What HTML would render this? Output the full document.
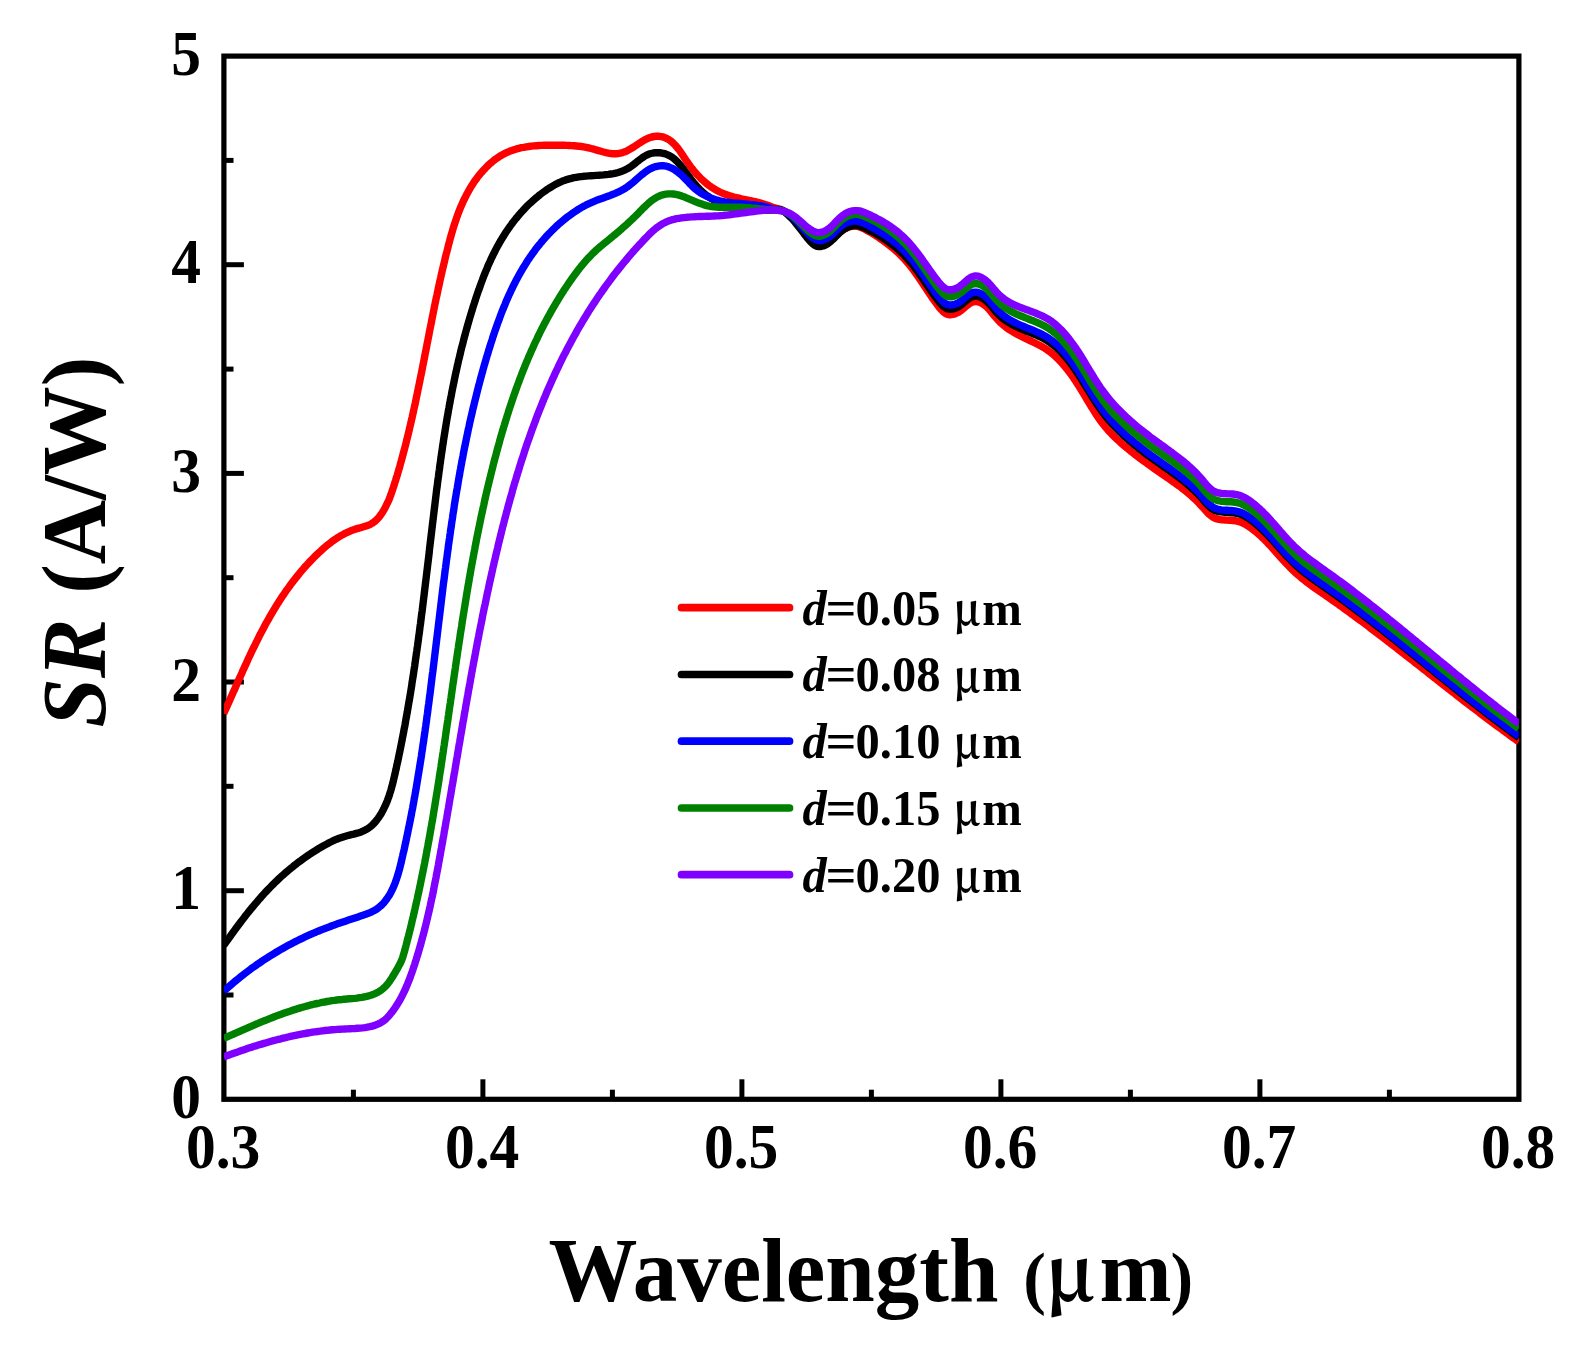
<!DOCTYPE html>
<html lang="en">
<head>
<meta charset="utf-8">
<title>SR vs Wavelength</title>
<style>
html,body{margin:0;padding:0;background:#fff;}
body{width:1590px;height:1349px;overflow:hidden;}
svg{display:block;filter:blur(0.75px);}
text{font-family:"Liberation Serif","Times New Roman",Times,serif;font-weight:bold;fill:#000;}
</style>
</head>
<body>
<svg width="1590" height="1349" viewBox="0 0 1590 1349">
<rect x="0" y="0" width="1590" height="1349" fill="#ffffff"/>
<defs><clipPath id="plot"><rect x="223.9" y="56.1" width="1295.0" height="1043.2"/></clipPath></defs>
<g stroke="#000" stroke-width="5.0" fill="none">
<line x1="353.4" y1="1099.3" x2="353.4" y2="1089.7"/>
<line x1="482.9" y1="1099.3" x2="482.9" y2="1079.3"/>
<line x1="612.4" y1="1099.3" x2="612.4" y2="1089.7"/>
<line x1="741.9" y1="1099.3" x2="741.9" y2="1079.3"/>
<line x1="871.4" y1="1099.3" x2="871.4" y2="1089.7"/>
<line x1="1000.9" y1="1099.3" x2="1000.9" y2="1079.3"/>
<line x1="1130.4" y1="1099.3" x2="1130.4" y2="1089.7"/>
<line x1="1259.9" y1="1099.3" x2="1259.9" y2="1079.3"/>
<line x1="1389.4" y1="1099.3" x2="1389.4" y2="1089.7"/>
<line x1="223.9" y1="995.0" x2="233.5" y2="995.0"/>
<line x1="223.9" y1="890.7" x2="243.9" y2="890.7"/>
<line x1="223.9" y1="786.3" x2="233.5" y2="786.3"/>
<line x1="223.9" y1="682.0" x2="243.9" y2="682.0"/>
<line x1="223.9" y1="577.7" x2="233.5" y2="577.7"/>
<line x1="223.9" y1="473.4" x2="243.9" y2="473.4"/>
<line x1="223.9" y1="369.1" x2="233.5" y2="369.1"/>
<line x1="223.9" y1="264.7" x2="243.9" y2="264.7"/>
<line x1="223.9" y1="160.4" x2="233.5" y2="160.4"/>
</g>
<rect x="223.9" y="56.1" width="1295.0" height="1043.2" fill="none" stroke="#000" stroke-width="5.2"/>
<g clip-path="url(#plot)">
<path d="M223.7 713.5L224.7 711.2L225.8 708.9L226.8 706.7L227.8 704.4L228.9 702.1L229.9 699.8L230.9 697.5L231.9 695.2L232.9 692.9L234.0 690.7L235.0 688.4L236.0 686.1L237.0 683.8L238.0 681.5L239.0 679.2L240.1 677.0L241.1 674.7L242.1 672.4L243.1 670.1L244.2 667.8L245.2 665.6L246.3 663.3L247.3 661.0L248.3 658.8L249.4 656.5L250.5 654.2L251.5 652.0L252.6 649.7L253.7 647.5L254.8 645.3L255.9 643.0L257.0 640.8L258.1 638.6L259.2 636.3L260.4 634.1L261.5 631.9L262.7 629.7L263.9 627.5L265.0 625.3L266.2 623.1L267.5 620.9L268.7 618.8L269.9 616.6L271.2 614.4L272.4 612.3L273.7 610.1L275.0 608.0L276.3 605.9L277.6 603.7L279.0 601.6L280.3 599.5L281.7 597.4L283.1 595.3L284.5 593.3L285.9 591.2L287.4 589.1L288.9 587.1L290.3 585.1L291.9 583.0L293.4 581.0L294.9 579.1L296.5 577.1L298.1 575.1L299.6 573.2L301.3 571.2L302.9 569.3L304.5 567.4L306.2 565.6L307.9 563.7L309.6 561.9L311.3 560.1L313.1 558.3L314.8 556.5L316.6 554.8L318.4 553.1L320.3 551.4L322.1 549.7L323.9 548.1L325.8 546.4L327.7 544.9L329.7 543.3L331.6 541.8L333.6 540.4L335.6 539.0L337.7 537.6L339.8 536.3L341.9 535.1L344.1 533.9L346.3 532.8L348.5 531.8L350.8 530.8L353.1 529.9L355.5 529.1L357.9 528.4L360.4 527.7L362.8 527.0L365.2 526.3L367.6 525.5L369.9 524.6L372.0 523.4L374.0 522.0L375.9 520.5L377.7 518.7L379.3 516.8L380.8 514.8L382.2 512.7L383.5 510.6L384.8 508.4L385.9 506.2L387.0 503.9L388.1 501.7L389.1 499.4L390.0 497.0L390.9 494.7L391.7 492.3L392.5 490.0L393.3 487.6L394.1 485.2L394.8 482.8L395.6 480.4L396.3 478.0L397.1 475.6L397.8 473.2L398.5 470.8L399.2 468.4L399.9 466.0L400.5 463.6L401.2 461.2L401.9 458.8L402.5 456.3L403.2 453.9L403.8 451.5L404.5 449.1L405.1 446.7L405.7 444.3L406.3 441.8L406.9 439.4L407.5 437.0L408.1 434.6L408.7 432.1L409.3 429.7L409.8 427.3L410.4 424.9L411.0 422.4L411.5 420.0L412.1 417.6L412.6 415.2L413.2 412.7L413.7 410.3L414.2 407.9L414.8 405.4L415.3 403.0L415.8 400.5L416.3 398.1L416.8 395.7L417.3 393.2L417.8 390.8L418.3 388.3L418.8 385.9L419.3 383.5L419.8 381.0L420.3 378.6L420.8 376.1L421.3 373.7L421.8 371.2L422.3 368.8L422.7 366.4L423.2 363.9L423.7 361.5L424.2 359.0L424.7 356.6L425.1 354.1L425.6 351.7L426.1 349.2L426.6 346.8L427.0 344.3L427.5 341.9L428.0 339.4L428.5 337.0L429.0 334.5L429.4 332.1L429.9 329.6L430.4 327.2L430.9 324.7L431.4 322.3L431.8 319.8L432.3 317.4L432.8 314.9L433.3 312.5L433.8 310.0L434.3 307.6L434.8 305.1L435.3 302.6L435.8 300.2L436.3 297.7L436.9 295.3L437.4 292.8L437.9 290.4L438.4 287.9L439.0 285.5L439.5 283.0L440.0 280.6L440.6 278.1L441.1 275.7L441.7 273.2L442.2 270.8L442.8 268.3L443.4 265.9L444.0 263.4L444.6 261.0L445.1 258.6L445.7 256.1L446.3 253.7L447.0 251.2L447.6 248.8L448.2 246.3L448.8 243.9L449.5 241.4L450.1 239.0L450.8 236.6L451.5 234.1L452.2 231.7L452.9 229.3L453.6 226.9L454.4 224.5L455.2 222.1L456.0 219.8L456.8 217.4L457.6 215.0L458.5 212.7L459.4 210.4L460.3 208.1L461.3 205.8L462.3 203.5L463.3 201.2L464.4 199.0L465.5 196.8L466.6 194.6L467.8 192.4L469.0 190.2L470.2 188.1L471.5 186.0L472.9 183.9L474.2 181.8L475.7 179.8L477.1 177.8L478.7 175.8L480.2 173.9L481.9 172.0L483.5 170.1L485.3 168.3L487.0 166.5L488.8 164.8L490.7 163.1L492.6 161.5L494.5 159.9L496.5 158.5L498.6 157.1L500.7 155.7L502.8 154.5L505.0 153.4L507.2 152.3L509.5 151.3L511.8 150.5L514.1 149.7L516.5 148.9L518.9 148.3L521.3 147.7L523.8 147.3L526.3 146.8L528.8 146.5L531.3 146.1L533.8 145.9L536.4 145.7L538.9 145.5L541.5 145.4L544.1 145.3L546.6 145.2L549.2 145.2L551.7 145.2L554.3 145.2L556.8 145.2L559.3 145.2L561.8 145.3L564.3 145.3L566.7 145.4L569.2 145.5L571.6 145.6L574.0 145.8L576.5 146.0L578.9 146.2L581.3 146.5L583.7 146.9L586.2 147.3L588.6 147.9L591.1 148.5L593.6 149.1L596.0 149.9L598.5 150.6L601.0 151.3L603.5 152.0L606.0 152.6L608.4 153.1L610.9 153.5L613.3 153.7L615.7 153.7L618.0 153.5L620.3 153.2L622.6 152.6L624.9 151.8L627.1 150.8L629.3 149.6L631.5 148.3L633.7 147.0L635.9 145.5L638.1 144.0L640.3 142.6L642.5 141.2L644.7 139.9L647.0 138.7L649.4 137.8L651.7 137.0L654.2 136.5L656.6 136.2L659.0 136.3L661.4 136.6L663.7 137.2L666.0 138.1L668.1 139.2L670.1 140.5L672.0 142.0L673.8 143.7L675.5 145.5L677.1 147.4L678.7 149.4L680.2 151.4L681.6 153.6L683.1 155.7L684.5 157.9L685.9 160.1L687.4 162.2L688.9 164.3L690.4 166.4L691.9 168.4L693.5 170.4L695.1 172.3L696.8 174.2L698.5 176.0L700.2 177.8L701.9 179.5L703.7 181.1L705.6 182.7L707.5 184.3L709.4 185.7L711.4 187.1L713.4 188.4L715.5 189.7L717.6 190.9L719.8 192.0L722.0 193.0L724.3 193.9L726.6 194.8L729.0 195.6L731.4 196.3L733.9 197.0L736.4 197.6L738.9 198.2L741.4 198.8L743.9 199.3L746.4 199.8L749.0 200.4L751.5 200.9L754.0 201.5L756.5 202.0L758.9 202.6L761.3 203.3L763.7 204.0L766.0 204.7L768.3 205.5L770.5 206.4L772.0 207.0L773.8 207.6L775.7 208.1L777.6 208.5L779.4 209.0L781.3 209.6L783.1 210.4L785.0 211.7L787.0 213.2L789.0 214.9L791.0 216.8L793.0 218.8L795.0 221.0L797.0 223.3L799.0 225.8L801.0 228.3L803.0 230.9L805.0 233.5L807.0 236.0L809.0 238.3L811.0 240.4L813.0 242.2L815.0 243.6L817.0 244.6L819.0 245.1L821.0 245.1L823.0 244.8L825.0 244.2L827.0 243.2L829.0 242.0L831.0 240.4L833.0 238.7L835.0 236.7L837.0 234.8L839.0 232.9L841.0 231.2L843.0 229.8L845.0 228.6L847.0 227.6L849.0 226.9L851.0 226.4L853.0 226.1L855.0 226.0L857.0 226.2L859.0 226.7L861.0 227.4L863.0 228.3L865.0 229.3L867.0 230.4L869.0 231.5L871.0 232.7L873.0 233.9L875.0 235.1L877.0 236.4L879.0 237.7L881.0 239.1L883.0 240.5L885.0 242.0L887.0 243.5L889.0 245.0L891.0 246.6L893.0 248.3L895.0 250.0L897.0 251.8L899.0 253.6L901.0 255.6L903.0 257.6L905.0 259.8L907.0 262.1L909.0 264.5L911.0 267.0L913.0 269.6L915.0 272.3L917.0 275.1L919.0 278.0L921.0 280.9L923.0 283.9L925.0 286.9L927.0 290.0L929.0 293.0L931.0 295.9L933.0 298.9L935.0 301.7L937.0 304.4L939.0 307.1L941.0 309.5L943.0 311.5L945.0 313.1L947.0 314.1L949.0 314.7L951.0 314.7L953.0 314.4L955.0 313.9L957.0 313.0L959.0 311.9L961.0 310.5L963.0 308.9L965.0 307.2L967.0 305.5L969.0 304.0L971.0 302.7L973.0 301.9L975.0 301.5L977.0 301.6L979.0 302.1L981.0 302.9L983.0 304.1L985.0 305.5L987.0 307.2L989.0 309.3L991.0 311.6L993.0 314.1L995.0 316.6L997.0 318.9L999.0 321.1L1001.0 323.0L1003.0 324.8L1005.0 326.4L1007.0 328.0L1009.0 329.4L1011.0 330.7L1013.0 331.9L1015.0 333.1L1017.0 334.2L1019.0 335.2L1021.0 336.2L1023.0 337.2L1025.0 338.2L1027.0 339.2L1029.0 340.1L1031.0 341.1L1033.0 342.0L1035.0 343.0L1037.0 344.0L1039.0 345.0L1041.0 346.1L1043.0 347.2L1045.0 348.4L1047.0 349.7L1049.0 351.1L1051.0 352.7L1053.0 354.3L1055.0 356.1L1057.0 357.9L1059.0 359.9L1061.0 362.1L1063.0 364.3L1065.0 366.7L1067.0 369.1L1069.0 371.7L1071.0 374.4L1073.0 377.2L1075.0 380.1L1077.0 383.2L1079.0 386.3L1081.0 389.5L1083.0 392.8L1085.0 396.1L1087.0 399.5L1089.0 402.8L1091.0 406.2L1093.0 409.4L1095.0 412.6L1097.0 415.7L1099.0 418.6L1101.0 421.4L1103.0 424.0L1105.0 426.6L1107.0 428.9L1109.0 431.2L1111.0 433.3L1113.0 435.4L1115.0 437.4L1117.0 439.3L1119.0 441.1L1121.0 442.9L1123.0 444.7L1125.0 446.4L1127.0 448.0L1129.0 449.7L1131.0 451.3L1133.0 452.9L1135.0 454.5L1137.0 456.0L1139.0 457.5L1141.0 459.0L1143.0 460.5L1145.0 461.9L1147.0 463.4L1149.0 464.8L1151.0 466.3L1153.0 467.7L1155.0 469.1L1157.0 470.5L1159.0 471.9L1161.0 473.3L1163.0 474.6L1165.0 476.0L1167.0 477.4L1169.0 478.8L1171.0 480.2L1173.0 481.6L1175.0 483.0L1177.0 484.5L1179.0 485.9L1181.0 487.4L1183.0 489.0L1185.0 490.5L1187.0 492.2L1189.0 493.8L1191.0 495.6L1193.0 497.4L1195.0 499.2L1197.0 501.2L1199.0 503.2L1201.0 505.4L1203.0 507.6L1205.0 509.9L1207.0 512.1L1209.0 514.1L1211.0 515.8L1213.0 517.2L1215.0 518.2L1217.0 518.9L1219.0 519.4L1221.0 519.7L1223.0 519.9L1225.0 520.0L1227.0 520.1L1229.0 520.2L1231.0 520.3L1233.0 520.5L1235.0 520.7L1237.0 521.1L1239.0 521.6L1241.0 522.3L1243.0 523.1L1245.0 524.1L1247.0 525.3L1249.0 526.6L1251.0 528.0L1253.0 529.5L1255.0 531.1L1257.0 532.7L1259.0 534.5L1261.0 536.3L1263.0 538.2L1265.0 540.2L1267.0 542.3L1269.0 544.4L1271.0 546.5L1273.0 548.7L1275.0 550.9L1277.0 553.2L1279.0 555.4L1281.0 557.7L1283.0 559.9L1285.0 562.1L1287.0 564.2L1289.0 566.3L1291.0 568.3L1293.0 570.3L1295.0 572.2L1297.0 574.1L1299.0 575.8L1301.0 577.5L1303.0 579.1L1305.0 580.7L1307.0 582.3L1309.0 583.8L1311.0 585.2L1313.0 586.7L1315.0 588.1L1317.0 589.5L1319.0 590.9L1321.0 592.3L1323.0 593.7L1325.0 595.0L1327.0 596.4L1329.0 597.8L1331.0 599.2L1333.0 600.6L1335.0 602.0L1337.0 603.4L1339.0 604.9L1341.0 606.3L1343.0 607.7L1345.0 609.2L1347.0 610.6L1349.0 612.1L1351.0 613.6L1353.0 615.0L1355.0 616.5L1357.0 618.0L1359.0 619.5L1361.0 620.9L1363.0 622.4L1365.0 623.9L1367.0 625.4L1369.0 626.9L1371.0 628.5L1373.0 630.0L1375.0 631.5L1377.0 633.0L1379.0 634.5L1381.0 636.1L1383.0 637.6L1385.0 639.1L1387.0 640.7L1389.0 642.2L1391.0 643.8L1393.0 645.3L1395.0 646.9L1397.0 648.4L1399.0 650.0L1401.0 651.5L1403.0 653.1L1405.0 654.7L1407.0 656.2L1409.0 657.8L1411.0 659.4L1413.0 660.9L1415.0 662.5L1417.0 664.1L1419.0 665.6L1421.0 667.2L1423.0 668.8L1425.0 670.4L1427.0 671.9L1429.0 673.5L1431.0 675.1L1433.0 676.7L1435.0 678.2L1437.0 679.8L1439.0 681.4L1441.0 683.0L1443.0 684.5L1445.0 686.1L1447.0 687.7L1449.0 689.2L1451.0 690.8L1453.0 692.4L1455.0 693.9L1457.0 695.5L1459.0 697.0L1461.0 698.6L1463.0 700.2L1465.0 701.7L1467.0 703.2L1469.0 704.8L1471.0 706.3L1473.0 707.9L1475.0 709.4L1477.0 710.9L1479.0 712.4L1481.0 714.0L1483.0 715.5L1485.0 717.0L1487.0 718.5L1489.0 720.0L1491.0 721.5L1493.0 723.0L1495.0 724.5L1497.0 726.0L1499.0 727.4L1501.0 728.9L1503.0 730.4L1505.0 731.8L1507.0 733.3L1509.0 734.7L1511.0 736.2L1513.0 737.6L1515.0 739.0L1517.0 740.4L1518.9 741.8" fill="none" stroke="#FF0000" stroke-width="7.4" stroke-linejoin="round" stroke-linecap="butt"/>
<path d="M223.7 945.5L225.1 943.5L226.6 941.4L228.0 939.4L229.5 937.3L230.9 935.3L232.4 933.3L233.9 931.3L235.3 929.2L236.8 927.2L238.3 925.2L239.8 923.2L241.3 921.2L242.9 919.2L244.4 917.3L245.9 915.3L247.5 913.3L249.0 911.4L250.6 909.4L252.2 907.5L253.8 905.6L255.4 903.7L257.0 901.8L258.6 899.9L260.3 898.0L261.9 896.1L263.6 894.3L265.3 892.4L267.0 890.6L268.7 888.8L270.5 887.0L272.2 885.2L274.0 883.5L275.8 881.7L277.6 880.0L279.4 878.3L281.2 876.6L283.1 874.9L285.0 873.2L286.9 871.6L288.8 870.0L290.7 868.4L292.7 866.8L294.6 865.2L296.6 863.7L298.6 862.1L300.6 860.7L302.6 859.2L304.7 857.7L306.7 856.3L308.8 854.9L310.9 853.5L313.0 852.2L315.1 850.8L317.2 849.5L319.3 848.2L321.4 847.0L323.6 845.8L325.7 844.6L327.9 843.4L330.1 842.3L332.3 841.2L334.5 840.2L336.8 839.2L339.1 838.3L341.5 837.5L343.9 836.7L346.3 836.0L348.8 835.3L351.3 834.7L353.8 834.1L356.3 833.4L358.8 832.7L361.2 831.9L363.5 830.9L365.7 829.8L367.8 828.6L369.8 827.1L371.7 825.6L373.4 823.9L375.1 822.1L376.7 820.1L378.2 818.1L379.6 816.1L381.0 813.9L382.2 811.7L383.4 809.5L384.5 807.2L385.6 804.9L386.6 802.6L387.5 800.3L388.3 798.0L389.2 795.6L389.9 793.2L390.7 790.8L391.4 788.4L392.0 786.0L392.7 783.6L393.3 781.2L393.8 778.8L394.4 776.3L395.0 773.9L395.5 771.4L396.1 769.0L396.6 766.6L397.1 764.1L397.7 761.7L398.2 759.2L398.7 756.8L399.2 754.3L399.7 751.9L400.2 749.4L400.7 747.0L401.2 744.5L401.7 742.1L402.2 739.6L402.6 737.2L403.1 734.7L403.6 732.3L404.0 729.8L404.5 727.4L405.0 724.9L405.4 722.5L405.8 720.0L406.3 717.6L406.7 715.1L407.2 712.6L407.6 710.2L408.0 707.7L408.4 705.3L408.8 702.8L409.3 700.3L409.7 697.9L410.1 695.4L410.5 693.0L410.9 690.5L411.3 688.0L411.7 685.6L412.0 683.1L412.4 680.6L412.8 678.2L413.2 675.7L413.6 673.2L413.9 670.8L414.3 668.3L414.7 665.8L415.0 663.3L415.4 660.9L415.7 658.4L416.1 655.9L416.4 653.5L416.8 651.0L417.1 648.5L417.5 646.0L417.8 643.6L418.2 641.1L418.5 638.6L418.8 636.1L419.2 633.7L419.5 631.2L419.8 628.7L420.1 626.2L420.5 623.8L420.8 621.3L421.1 618.8L421.4 616.3L421.7 613.8L422.1 611.3L422.4 608.9L422.7 606.4L423.0 603.9L423.3 601.4L423.6 598.9L423.9 596.5L424.2 594.0L424.5 591.5L424.8 589.0L425.1 586.5L425.4 584.0L425.7 581.5L426.0 579.1L426.3 576.6L426.6 574.1L426.9 571.6L427.2 569.1L427.5 566.6L427.8 564.1L428.1 561.6L428.4 559.2L428.7 556.7L429.0 554.2L429.3 551.7L429.5 549.2L429.8 546.7L430.1 544.2L430.4 541.7L430.7 539.2L431.0 536.7L431.3 534.3L431.6 531.8L431.9 529.3L432.2 526.8L432.5 524.3L432.8 521.8L433.1 519.3L433.4 516.8L433.7 514.3L434.0 511.8L434.3 509.3L434.6 506.8L434.9 504.4L435.2 501.9L435.5 499.4L435.8 496.9L436.1 494.4L436.4 491.9L436.7 489.4L437.1 486.9L437.4 484.4L437.7 481.9L438.0 479.5L438.4 477.0L438.7 474.5L439.0 472.0L439.4 469.5L439.7 467.0L440.0 464.5L440.4 462.1L440.7 459.6L441.1 457.1L441.4 454.6L441.8 452.1L442.2 449.7L442.5 447.2L442.9 444.7L443.3 442.2L443.6 439.8L444.0 437.3L444.4 434.8L444.8 432.3L445.2 429.9L445.6 427.4L446.0 424.9L446.4 422.5L446.8 420.0L447.2 417.5L447.7 415.1L448.1 412.6L448.5 410.1L449.0 407.7L449.4 405.2L449.9 402.8L450.3 400.3L450.8 397.8L451.3 395.4L451.7 392.9L452.2 390.5L452.7 388.0L453.2 385.6L453.7 383.2L454.2 380.7L454.7 378.3L455.2 375.8L455.7 373.4L456.3 370.9L456.8 368.5L457.3 366.1L457.9 363.6L458.4 361.2L459.0 358.8L459.6 356.4L460.2 353.9L460.7 351.5L461.3 349.1L461.9 346.7L462.6 344.3L463.2 341.9L463.8 339.4L464.4 337.0L465.1 334.6L465.7 332.2L466.4 329.8L467.1 327.4L467.7 325.0L468.4 322.6L469.1 320.2L469.8 317.8L470.5 315.5L471.2 313.1L472.0 310.7L472.7 308.3L473.4 305.9L474.2 303.6L475.0 301.2L475.7 298.8L476.5 296.4L477.3 294.1L478.1 291.7L479.0 289.4L479.8 287.0L480.6 284.7L481.5 282.3L482.4 280.0L483.2 277.6L484.1 275.3L485.1 273.0L486.0 270.7L487.0 268.4L487.9 266.1L488.9 263.8L490.0 261.5L491.0 259.2L492.1 257.0L493.2 254.7L494.3 252.5L495.4 250.3L496.6 248.1L497.8 245.8L499.0 243.7L500.2 241.5L501.5 239.3L502.8 237.2L504.2 235.0L505.5 232.9L506.9 230.8L508.4 228.7L509.8 226.6L511.3 224.6L512.8 222.5L514.4 220.5L516.0 218.5L517.6 216.6L519.2 214.7L520.8 212.8L522.5 211.0L524.1 209.2L525.8 207.4L527.5 205.7L529.2 204.0L531.0 202.4L532.8 200.8L534.6 199.2L536.5 197.6L538.4 196.0L540.4 194.4L542.4 192.9L544.4 191.4L546.5 189.9L548.6 188.5L550.8 187.2L553.0 185.9L555.2 184.6L557.4 183.4L559.7 182.3L562.0 181.3L564.4 180.4L566.7 179.6L569.1 178.9L571.5 178.3L573.9 177.7L576.3 177.3L578.7 176.9L581.2 176.6L583.6 176.3L586.1 176.1L588.6 175.9L591.0 175.7L593.5 175.6L596.0 175.4L598.5 175.3L601.0 175.1L603.5 174.9L606.0 174.6L608.5 174.4L610.9 174.0L613.4 173.6L615.8 173.1L618.2 172.5L620.5 171.8L622.8 170.9L625.1 169.9L627.3 168.8L629.5 167.5L631.6 166.0L633.6 164.5L635.7 162.8L637.7 161.2L639.8 159.6L641.8 158.1L644.0 156.6L646.1 155.4L648.4 154.3L650.8 153.5L653.2 153.0L655.7 152.7L658.1 152.7L660.6 152.8L663.1 153.3L665.5 153.9L667.7 154.8L669.9 155.8L672.0 157.1L673.9 158.6L675.7 160.2L677.5 161.9L679.1 163.8L680.8 165.7L682.3 167.7L683.9 169.8L685.4 171.9L687.0 174.0L688.5 176.0L690.1 178.1L691.6 180.1L693.2 182.1L694.9 184.1L696.5 186.0L698.2 187.8L699.9 189.6L701.7 191.3L703.5 192.9L705.4 194.5L707.3 195.9L709.3 197.3L711.3 198.5L713.4 199.6L715.6 200.6L717.8 201.5L720.1 202.3L722.5 202.9L724.9 203.3L727.5 203.7L730.0 204.0L732.6 204.2L735.2 204.4L737.8 204.5L740.5 204.7L743.1 204.8L745.7 205.0L748.2 205.2L750.8 205.5L753.2 205.9L755.6 206.4L757.9 207.0L760.2 207.8L762.3 208.7L764.5 209.5L766.9 210.1L769.5 210.2L772.0 209.8L773.9 209.7L775.7 209.5L777.6 209.5L779.4 209.7L781.3 210.2L783.1 211.0L785.0 212.3L787.0 214.0L789.0 215.8L791.0 217.7L793.0 219.8L795.0 222.1L797.0 224.6L799.0 227.1L801.0 229.7L803.0 232.3L805.0 235.0L807.0 237.6L809.0 240.0L811.0 242.1L813.0 244.0L815.0 245.4L817.0 246.3L819.0 246.6L821.0 246.5L823.0 246.0L825.0 245.2L827.0 244.2L829.0 242.8L831.0 241.1L833.0 239.3L835.0 237.3L837.0 235.2L839.0 233.3L841.0 231.5L843.0 229.9L845.0 228.6L847.0 227.6L849.0 226.8L851.0 226.2L853.0 225.8L855.0 225.6L857.0 225.6L859.0 225.9L861.0 226.5L863.0 227.3L865.0 228.2L867.0 229.1L869.0 230.1L871.0 231.1L873.0 232.1L875.0 233.2L877.0 234.4L879.0 235.6L881.0 236.8L883.0 238.1L885.0 239.4L887.0 240.8L889.0 242.2L891.0 243.7L893.0 245.2L895.0 246.8L897.0 248.5L899.0 250.2L901.0 252.1L903.0 254.0L905.0 256.0L907.0 258.2L909.0 260.5L911.0 262.8L913.0 265.3L915.0 267.9L917.0 270.6L919.0 273.4L921.0 276.2L923.0 279.1L925.0 282.1L927.0 285.0L929.0 287.9L931.0 290.8L933.0 293.6L935.0 296.4L937.0 299.1L939.0 301.7L941.0 304.0L943.0 306.1L945.0 307.6L947.0 308.6L949.0 309.1L951.0 309.2L953.0 308.9L955.0 308.4L957.0 307.6L959.0 306.4L961.0 305.0L963.0 303.4L965.0 301.7L967.0 300.0L969.0 298.5L971.0 297.2L973.0 296.4L975.0 296.0L977.0 296.1L979.0 296.6L981.0 297.4L983.0 298.5L985.0 299.9L987.0 301.6L989.0 303.6L991.0 305.8L993.0 308.2L995.0 310.7L997.0 313.0L999.0 315.0L1001.0 316.9L1003.0 318.5L1005.0 320.1L1007.0 321.4L1009.0 322.7L1011.0 323.9L1013.0 325.0L1015.0 326.0L1017.0 327.0L1019.0 327.9L1021.0 328.8L1023.0 329.6L1025.0 330.4L1027.0 331.3L1029.0 332.1L1031.0 332.9L1033.0 333.7L1035.0 334.5L1037.0 335.4L1039.0 336.3L1041.0 337.2L1043.0 338.2L1045.0 339.3L1047.0 340.5L1049.0 341.8L1051.0 343.2L1053.0 344.7L1055.0 346.3L1057.0 348.1L1059.0 350.0L1061.0 352.0L1063.0 354.1L1065.0 356.4L1067.0 358.7L1069.0 361.2L1071.0 363.8L1073.0 366.6L1075.0 369.4L1077.0 372.4L1079.0 375.4L1081.0 378.6L1083.0 381.8L1085.0 385.0L1087.0 388.3L1089.0 391.5L1091.0 394.8L1093.0 398.0L1095.0 401.2L1097.0 404.2L1099.0 407.2L1101.0 410.0L1103.0 412.8L1105.0 415.4L1107.0 417.9L1109.0 420.3L1111.0 422.6L1113.0 424.8L1115.0 426.9L1117.0 429.0L1119.0 431.0L1121.0 432.9L1123.0 434.8L1125.0 436.7L1127.0 438.5L1129.0 440.2L1131.0 442.0L1133.0 443.7L1135.0 445.3L1137.0 446.9L1139.0 448.5L1141.0 450.1L1143.0 451.6L1145.0 453.2L1147.0 454.7L1149.0 456.1L1151.0 457.6L1153.0 459.0L1155.0 460.5L1157.0 461.9L1159.0 463.3L1161.0 464.7L1163.0 466.1L1165.0 467.5L1167.0 468.9L1169.0 470.3L1171.0 471.7L1173.0 473.1L1175.0 474.6L1177.0 476.0L1179.0 477.5L1181.0 479.1L1183.0 480.6L1185.0 482.2L1187.0 483.9L1189.0 485.6L1191.0 487.3L1193.0 489.2L1195.0 491.1L1197.0 493.0L1199.0 495.1L1201.0 497.3L1203.0 499.6L1205.0 502.0L1207.0 504.2L1209.0 506.2L1211.0 507.9L1213.0 509.3L1215.0 510.4L1217.0 511.1L1219.0 511.6L1221.0 511.9L1223.0 512.1L1225.0 512.3L1227.0 512.4L1229.0 512.5L1231.0 512.6L1233.0 512.7L1235.0 513.0L1237.0 513.3L1239.0 513.8L1241.0 514.5L1243.0 515.3L1245.0 516.3L1247.0 517.5L1249.0 518.7L1251.0 520.1L1253.0 521.6L1255.0 523.2L1257.0 524.9L1259.0 526.6L1261.0 528.4L1263.0 530.3L1265.0 532.3L1267.0 534.4L1269.0 536.5L1271.0 538.6L1273.0 540.8L1275.0 543.0L1277.0 545.3L1279.0 547.5L1281.0 549.8L1283.0 552.0L1285.0 554.2L1287.0 556.4L1289.0 558.5L1291.0 560.5L1293.0 562.5L1295.0 564.5L1297.0 566.3L1299.0 568.1L1301.0 569.8L1303.0 571.4L1305.0 573.0L1307.0 574.6L1309.0 576.1L1311.0 577.6L1313.0 579.0L1315.0 580.5L1317.0 581.9L1319.0 583.3L1321.0 584.7L1323.0 586.1L1325.0 587.5L1327.0 588.9L1329.0 590.3L1331.0 591.7L1333.0 593.1L1335.0 594.5L1337.0 596.0L1339.0 597.4L1341.0 598.9L1343.0 600.3L1345.0 601.8L1347.0 603.2L1349.0 604.7L1351.0 606.2L1353.0 607.7L1355.0 609.2L1357.0 610.7L1359.0 612.2L1361.0 613.7L1363.0 615.2L1365.0 616.8L1367.0 618.3L1369.0 619.8L1371.0 621.4L1373.0 622.9L1375.0 624.5L1377.0 626.0L1379.0 627.6L1381.0 629.1L1383.0 630.7L1385.0 632.3L1387.0 633.8L1389.0 635.4L1391.0 637.0L1393.0 638.6L1395.0 640.2L1397.0 641.8L1399.0 643.4L1401.0 645.0L1403.0 646.6L1405.0 648.2L1407.0 649.8L1409.0 651.4L1411.0 653.0L1413.0 654.6L1415.0 656.2L1417.0 657.8L1419.0 659.4L1421.0 661.0L1423.0 662.7L1425.0 664.3L1427.0 665.9L1429.0 667.5L1431.0 669.1L1433.0 670.7L1435.0 672.4L1437.0 674.0L1439.0 675.6L1441.0 677.2L1443.0 678.8L1445.0 680.4L1447.0 682.0L1449.0 683.6L1451.0 685.3L1453.0 686.9L1455.0 688.5L1457.0 690.1L1459.0 691.7L1461.0 693.3L1463.0 694.9L1465.0 696.5L1467.0 698.0L1469.0 699.6L1471.0 701.2L1473.0 702.8L1475.0 704.4L1477.0 705.9L1479.0 707.5L1481.0 709.1L1483.0 710.6L1485.0 712.2L1487.0 713.7L1489.0 715.3L1491.0 716.8L1493.0 718.3L1495.0 719.9L1497.0 721.4L1499.0 722.9L1501.0 724.4L1503.0 725.9L1505.0 727.4L1507.0 728.9L1509.0 730.4L1511.0 731.9L1513.0 733.4L1515.0 734.8L1517.0 736.3L1518.9 737.7" fill="none" stroke="#000000" stroke-width="7.4" stroke-linejoin="round" stroke-linecap="butt"/>
<path d="M223.7 991.3L225.6 989.6L227.4 988.0L229.3 986.3L231.2 984.7L233.1 983.0L235.0 981.4L236.9 979.8L238.8 978.3L240.8 976.7L242.8 975.1L244.7 973.6L246.7 972.1L248.7 970.6L250.7 969.1L252.8 967.6L254.8 966.2L256.8 964.7L258.9 963.3L261.0 961.9L263.0 960.5L265.1 959.1L267.2 957.8L269.4 956.4L271.5 955.1L273.6 953.8L275.7 952.5L277.9 951.2L280.1 949.9L282.2 948.7L284.4 947.5L286.6 946.3L288.8 945.1L291.0 943.9L293.2 942.7L295.4 941.6L297.7 940.5L299.9 939.4L302.2 938.3L304.4 937.2L306.7 936.2L308.9 935.2L311.2 934.1L313.5 933.1L315.8 932.2L318.1 931.2L320.4 930.3L322.7 929.4L325.0 928.5L327.3 927.6L329.7 926.7L332.0 925.8L334.3 925.0L336.7 924.1L339.0 923.3L341.4 922.5L343.7 921.7L346.1 920.9L348.5 920.1L350.9 919.3L353.3 918.5L355.7 917.7L358.1 916.9L360.5 916.1L362.9 915.3L365.3 914.4L367.6 913.6L370.0 912.6L372.2 911.6L374.4 910.4L376.5 909.2L378.5 907.7L380.4 906.2L382.2 904.5L383.9 902.7L385.4 900.8L386.9 898.8L388.3 896.7L389.7 894.6L390.9 892.4L392.0 890.1L393.1 887.8L394.1 885.5L395.1 883.1L395.9 880.8L396.7 878.4L397.5 876.0L398.2 873.6L398.9 871.2L399.6 868.8L400.2 866.4L400.8 863.9L401.4 861.5L401.9 859.1L402.5 856.6L403.0 854.2L403.6 851.8L404.2 849.3L404.7 846.9L405.2 844.4L405.8 842.0L406.3 839.6L406.8 837.1L407.3 834.7L407.8 832.2L408.3 829.8L408.8 827.3L409.3 824.9L409.8 822.4L410.3 820.0L410.8 817.5L411.3 815.1L411.7 812.6L412.2 810.2L412.7 807.7L413.1 805.3L413.6 802.8L414.0 800.4L414.4 797.9L414.9 795.4L415.3 793.0L415.8 790.5L416.2 788.1L416.6 785.6L417.0 783.1L417.4 780.7L417.8 778.2L418.2 775.7L418.6 773.3L419.0 770.8L419.4 768.4L419.8 765.9L420.2 763.4L420.6 761.0L421.0 758.5L421.4 756.0L421.7 753.5L422.1 751.1L422.5 748.6L422.8 746.1L423.2 743.7L423.6 741.2L423.9 738.7L424.3 736.2L424.6 733.8L425.0 731.3L425.3 728.8L425.7 726.3L426.0 723.9L426.4 721.4L426.7 718.9L427.0 716.4L427.4 714.0L427.7 711.5L428.0 709.0L428.3 706.5L428.7 704.0L429.0 701.6L429.3 699.1L429.6 696.6L430.0 694.1L430.3 691.6L430.6 689.2L430.9 686.7L431.2 684.2L431.5 681.7L431.8 679.2L432.1 676.8L432.4 674.3L432.8 671.8L433.1 669.3L433.4 666.8L433.7 664.3L434.0 661.9L434.3 659.4L434.6 656.9L434.9 654.4L435.2 651.9L435.5 649.4L435.8 647.0L436.1 644.5L436.4 642.0L436.7 639.5L437.0 637.0L437.3 634.5L437.6 632.1L437.9 629.6L438.2 627.1L438.5 624.6L438.8 622.1L439.1 619.6L439.4 617.2L439.7 614.7L440.0 612.2L440.3 609.7L440.6 607.2L440.9 604.7L441.2 602.3L441.5 599.8L441.8 597.3L442.1 594.8L442.4 592.3L442.7 589.8L443.0 587.4L443.3 584.9L443.6 582.4L444.0 579.9L444.3 577.4L444.6 575.0L444.9 572.5L445.2 570.0L445.6 567.5L445.9 565.0L446.2 562.6L446.5 560.1L446.9 557.6L447.2 555.1L447.5 552.6L447.9 550.2L448.2 547.7L448.5 545.2L448.9 542.7L449.2 540.3L449.6 537.8L449.9 535.3L450.3 532.8L450.6 530.4L451.0 527.9L451.4 525.4L451.7 522.9L452.1 520.5L452.5 518.0L452.8 515.5L453.2 513.0L453.6 510.6L454.0 508.1L454.3 505.6L454.7 503.2L455.1 500.7L455.5 498.2L455.9 495.8L456.3 493.3L456.7 490.8L457.2 488.4L457.6 485.9L458.0 483.5L458.4 481.0L458.8 478.5L459.3 476.1L459.7 473.6L460.1 471.1L460.6 468.7L461.0 466.2L461.5 463.8L461.9 461.3L462.4 458.9L462.9 456.4L463.3 454.0L463.8 451.5L464.3 449.1L464.8 446.6L465.3 444.2L465.8 441.7L466.3 439.3L466.8 436.8L467.3 434.4L467.8 431.9L468.3 429.5L468.9 427.0L469.4 424.6L469.9 422.1L470.5 419.7L471.0 417.3L471.6 414.8L472.2 412.4L472.7 409.9L473.3 407.5L473.9 405.1L474.5 402.6L475.1 400.2L475.7 397.8L476.3 395.4L476.9 392.9L477.5 390.5L478.1 388.1L478.7 385.6L479.4 383.2L480.0 380.8L480.7 378.4L481.3 376.0L482.0 373.5L482.7 371.1L483.3 368.7L484.0 366.3L484.7 363.9L485.4 361.5L486.1 359.0L486.8 356.6L487.6 354.2L488.3 351.8L489.0 349.4L489.8 347.0L490.5 344.6L491.3 342.2L492.1 339.8L492.8 337.4L493.6 335.0L494.4 332.6L495.2 330.3L496.1 327.9L496.9 325.5L497.7 323.1L498.6 320.8L499.5 318.4L500.3 316.1L501.2 313.7L502.1 311.4L503.1 309.0L504.0 306.7L505.0 304.4L505.9 302.1L506.9 299.8L507.9 297.5L508.9 295.2L510.0 293.0L511.0 290.7L512.1 288.5L513.2 286.2L514.3 284.0L515.4 281.8L516.6 279.6L517.7 277.4L518.9 275.2L520.1 273.1L521.4 270.9L522.6 268.8L523.9 266.7L525.2 264.6L526.5 262.5L527.8 260.4L529.2 258.4L530.6 256.3L532.0 254.3L533.5 252.3L534.9 250.3L536.4 248.3L537.9 246.4L539.5 244.5L541.1 242.5L542.7 240.6L544.3 238.8L545.9 236.9L547.6 235.1L549.3 233.3L551.1 231.5L552.8 229.7L554.7 228.0L556.5 226.2L558.3 224.5L560.2 222.9L562.2 221.2L564.1 219.6L566.1 218.0L568.1 216.4L570.2 214.9L572.3 213.4L574.4 212.0L576.5 210.6L578.6 209.2L580.8 207.9L583.0 206.6L585.2 205.5L587.4 204.3L589.6 203.3L591.9 202.3L594.2 201.3L596.4 200.4L598.7 199.5L601.0 198.7L603.3 197.9L605.6 197.1L607.9 196.2L610.2 195.4L612.4 194.5L614.7 193.6L616.9 192.6L619.1 191.6L621.3 190.5L623.5 189.3L625.6 188.0L627.7 186.6L629.7 185.0L631.8 183.4L633.8 181.7L635.7 180.0L637.7 178.2L639.7 176.5L641.7 174.8L643.8 173.2L645.8 171.6L648.0 170.2L650.1 168.9L652.4 167.8L654.7 166.9L657.0 166.3L659.4 165.9L661.8 165.7L664.1 165.8L666.4 166.2L668.7 166.9L670.9 167.8L673.1 168.9L675.2 170.2L677.3 171.7L679.3 173.3L681.3 174.9L683.2 176.7L685.0 178.6L686.8 180.4L688.6 182.3L690.3 184.2L692.1 186.0L693.9 187.7L695.8 189.4L697.7 190.9L699.7 192.3L701.7 193.6L703.8 194.8L706.0 195.9L708.2 196.9L710.4 197.9L712.7 198.7L715.1 199.5L717.4 200.2L719.8 200.8L722.3 201.3L724.7 201.8L727.2 202.2L729.7 202.5L732.2 202.8L734.7 203.1L737.3 203.3L739.8 203.5L742.3 203.7L744.9 203.9L747.4 204.1L749.9 204.4L752.5 204.6L755.0 204.9L757.5 205.3L759.9 205.6L762.4 206.1L764.8 206.6L767.2 207.3L769.6 208.0L771.9 208.8L772.0 208.8L773.9 209.3L775.7 209.6L777.6 209.7L779.4 209.9L781.3 210.2L783.1 210.7L785.0 211.7L787.0 212.9L789.0 214.3L791.0 215.8L793.0 217.6L795.0 219.5L797.0 221.6L799.0 223.7L801.0 226.0L803.0 228.3L805.0 230.5L807.0 232.7L809.0 234.7L811.0 236.5L813.0 238.0L815.0 239.3L817.0 240.1L819.0 240.5L821.0 240.5L823.0 240.1L825.0 239.4L827.0 238.5L829.0 237.2L831.0 235.7L833.0 233.9L835.0 231.9L837.0 230.0L839.0 228.1L841.0 226.4L843.0 224.9L845.0 223.7L847.0 222.7L849.0 222.0L851.0 221.4L853.0 221.1L855.0 221.0L857.0 221.1L859.0 221.5L861.0 222.1L863.0 223.0L865.0 223.9L867.0 224.8L869.0 225.8L871.0 226.9L873.0 227.9L875.0 229.0L877.0 230.2L879.0 231.3L881.0 232.6L883.0 233.8L885.0 235.1L887.0 236.5L889.0 237.9L891.0 239.4L893.0 240.9L895.0 242.5L897.0 244.2L899.0 245.9L901.0 247.7L903.0 249.7L905.0 251.7L907.0 253.9L909.0 256.1L911.0 258.5L913.0 261.0L915.0 263.6L917.0 266.3L919.0 269.0L921.0 271.9L923.0 274.7L925.0 277.6L927.0 280.6L929.0 283.5L931.0 286.4L933.0 289.2L935.0 292.0L937.0 294.7L939.0 297.3L941.0 299.7L943.0 301.7L945.0 303.3L947.0 304.4L949.0 304.9L951.0 305.0L953.0 304.8L955.0 304.3L957.0 303.5L959.0 302.4L961.0 301.0L963.0 299.4L965.0 297.7L967.0 296.1L969.0 294.5L971.0 293.3L973.0 292.5L975.0 292.2L977.0 292.3L979.0 292.9L981.0 293.7L983.0 294.9L985.0 296.3L987.0 298.0L989.0 300.0L991.0 302.3L993.0 304.7L995.0 307.2L997.0 309.5L999.0 311.5L1001.0 313.4L1003.0 315.1L1005.0 316.6L1007.0 318.0L1009.0 319.3L1011.0 320.5L1013.0 321.6L1015.0 322.6L1017.0 323.6L1019.0 324.5L1021.0 325.4L1023.0 326.2L1025.0 327.0L1027.0 327.9L1029.0 328.7L1031.0 329.5L1033.0 330.3L1035.0 331.1L1037.0 332.0L1039.0 332.9L1041.0 333.9L1043.0 334.9L1045.0 336.0L1047.0 337.2L1049.0 338.4L1051.0 339.9L1053.0 341.4L1055.0 343.0L1057.0 344.8L1059.0 346.7L1061.0 348.7L1063.0 350.9L1065.0 353.1L1067.0 355.5L1069.0 358.1L1071.0 360.7L1073.0 363.4L1075.0 366.3L1077.0 369.3L1079.0 372.3L1081.0 375.5L1083.0 378.7L1085.0 382.0L1087.0 385.3L1089.0 388.6L1091.0 391.8L1093.0 395.1L1095.0 398.2L1097.0 401.3L1099.0 404.3L1101.0 407.2L1103.0 409.9L1105.0 412.6L1107.0 415.1L1109.0 417.5L1111.0 419.8L1113.0 422.1L1115.0 424.2L1117.0 426.3L1119.0 428.3L1121.0 430.3L1123.0 432.2L1125.0 434.1L1127.0 435.9L1129.0 437.7L1131.0 439.4L1133.0 441.1L1135.0 442.8L1137.0 444.4L1139.0 446.0L1141.0 447.6L1143.0 449.1L1145.0 450.7L1147.0 452.2L1149.0 453.7L1151.0 455.2L1153.0 456.6L1155.0 458.0L1157.0 459.5L1159.0 460.9L1161.0 462.3L1163.0 463.7L1165.0 465.1L1167.0 466.5L1169.0 467.9L1171.0 469.3L1173.0 470.8L1175.0 472.2L1177.0 473.7L1179.0 475.2L1181.0 476.8L1183.0 478.3L1185.0 479.9L1187.0 481.6L1189.0 483.3L1191.0 485.1L1193.0 486.9L1195.0 488.8L1197.0 490.8L1199.0 492.9L1201.0 495.1L1203.0 497.4L1205.0 499.8L1207.0 502.1L1209.0 504.1L1211.0 505.8L1213.0 507.2L1215.0 508.3L1217.0 509.0L1219.0 509.5L1221.0 509.9L1223.0 510.1L1225.0 510.2L1227.0 510.3L1229.0 510.4L1231.0 510.5L1233.0 510.7L1235.0 510.9L1237.0 511.3L1239.0 511.8L1241.0 512.5L1243.0 513.3L1245.0 514.3L1247.0 515.5L1249.0 516.8L1251.0 518.2L1253.0 519.7L1255.0 521.3L1257.0 522.9L1259.0 524.7L1261.0 526.5L1263.0 528.4L1265.0 530.4L1267.0 532.5L1269.0 534.6L1271.0 536.8L1273.0 539.0L1275.0 541.2L1277.0 543.4L1279.0 545.7L1281.0 548.0L1283.0 550.2L1285.0 552.4L1287.0 554.6L1289.0 556.7L1291.0 558.8L1293.0 560.8L1295.0 562.7L1297.0 564.6L1299.0 566.3L1301.0 568.1L1303.0 569.7L1305.0 571.3L1307.0 572.9L1309.0 574.4L1311.0 575.9L1313.0 577.4L1315.0 578.8L1317.0 580.2L1319.0 581.6L1321.0 583.0L1323.0 584.4L1325.0 585.8L1327.0 587.3L1329.0 588.7L1331.0 590.1L1333.0 591.5L1335.0 592.9L1337.0 594.4L1339.0 595.8L1341.0 597.3L1343.0 598.8L1345.0 600.2L1347.0 601.7L1349.0 603.2L1351.0 604.7L1353.0 606.2L1355.0 607.7L1357.0 609.2L1359.0 610.7L1361.0 612.2L1363.0 613.7L1365.0 615.3L1367.0 616.8L1369.0 618.4L1371.0 619.9L1373.0 621.4L1375.0 623.0L1377.0 624.6L1379.0 626.1L1381.0 627.7L1383.0 629.3L1385.0 630.8L1387.0 632.4L1389.0 634.0L1391.0 635.6L1393.0 637.2L1395.0 638.8L1397.0 640.4L1399.0 641.9L1401.0 643.5L1403.0 645.1L1405.0 646.7L1407.0 648.4L1409.0 650.0L1411.0 651.6L1413.0 653.2L1415.0 654.8L1417.0 656.4L1419.0 658.0L1421.0 659.6L1423.0 661.2L1425.0 662.9L1427.0 664.5L1429.0 666.1L1431.0 667.7L1433.0 669.3L1435.0 670.9L1437.0 672.6L1439.0 674.2L1441.0 675.8L1443.0 677.4L1445.0 679.0L1447.0 680.6L1449.0 682.2L1451.0 683.8L1453.0 685.4L1455.0 687.0L1457.0 688.6L1459.0 690.2L1461.0 691.8L1463.0 693.4L1465.0 695.0L1467.0 696.6L1469.0 698.2L1471.0 699.7L1473.0 701.3L1475.0 702.9L1477.0 704.5L1479.0 706.0L1481.0 707.6L1483.0 709.1L1485.0 710.7L1487.0 712.2L1489.0 713.8L1491.0 715.3L1493.0 716.8L1495.0 718.4L1497.0 719.9L1499.0 721.4L1501.0 722.9L1503.0 724.4L1505.0 725.9L1507.0 727.4L1509.0 728.9L1511.0 730.3L1513.0 731.8L1515.0 733.3L1517.0 734.7L1518.9 736.1" fill="none" stroke="#0000FF" stroke-width="7.4" stroke-linejoin="round" stroke-linecap="butt"/>
<path d="M223.7 1038.4L226.0 1037.4L228.2 1036.4L230.5 1035.4L232.8 1034.4L235.1 1033.3L237.4 1032.3L239.7 1031.3L241.9 1030.3L244.2 1029.3L246.5 1028.3L248.8 1027.3L251.1 1026.3L253.4 1025.3L255.7 1024.3L258.0 1023.4L260.3 1022.4L262.7 1021.4L265.0 1020.5L267.3 1019.6L269.6 1018.6L272.0 1017.7L274.3 1016.8L276.6 1015.9L279.0 1015.0L281.3 1014.2L283.7 1013.3L286.0 1012.5L288.4 1011.7L290.8 1010.9L293.1 1010.1L295.5 1009.4L297.9 1008.6L300.3 1007.9L302.7 1007.2L305.1 1006.5L307.5 1005.9L309.9 1005.2L312.3 1004.6L314.7 1004.0L317.2 1003.5L319.6 1003.0L322.1 1002.4L324.5 1002.0L327.0 1001.5L329.4 1001.1L331.9 1000.7L334.4 1000.4L336.9 1000.0L339.4 999.7L341.9 999.5L344.4 999.2L346.9 999.0L349.4 998.8L352.0 998.6L354.5 998.4L357.0 998.1L359.4 997.7L361.9 997.4L364.4 996.9L366.8 996.4L369.2 995.7L371.6 995.0L373.9 994.1L376.2 993.1L378.4 991.9L380.5 990.6L382.5 989.1L384.3 987.5L386.0 985.8L387.7 983.9L389.2 981.9L390.6 979.8L392.0 977.7L393.3 975.5L394.6 973.3L395.9 971.1L397.2 969.0L398.4 966.8L399.6 964.6L400.7 962.3L401.7 960.1L402.6 957.7L403.3 955.4L404.0 953.0L404.7 950.6L405.3 948.1L406.0 945.7L406.6 943.3L407.2 940.9L407.8 938.5L408.5 936.0L409.1 933.6L409.7 931.2L410.3 928.8L410.9 926.3L411.5 923.9L412.0 921.5L412.6 919.0L413.2 916.6L413.8 914.2L414.3 911.7L414.9 909.3L415.4 906.9L416.0 904.4L416.5 902.0L417.1 899.5L417.6 897.1L418.1 894.7L418.7 892.2L419.2 889.8L419.7 887.3L420.2 884.9L420.7 882.4L421.2 880.0L421.7 877.5L422.2 875.1L422.7 872.7L423.2 870.2L423.7 867.8L424.2 865.3L424.7 862.9L425.1 860.4L425.6 857.9L426.1 855.5L426.5 853.0L427.0 850.6L427.4 848.1L427.9 845.7L428.3 843.2L428.8 840.8L429.2 838.3L429.7 835.8L430.1 833.4L430.5 830.9L431.0 828.5L431.4 826.0L431.8 823.5L432.3 821.1L432.7 818.6L433.1 816.2L433.5 813.7L433.9 811.2L434.3 808.8L434.7 806.3L435.1 803.8L435.5 801.4L435.9 798.9L436.3 796.4L436.7 794.0L437.1 791.5L437.5 789.0L437.9 786.6L438.3 784.1L438.7 781.6L439.1 779.1L439.4 776.7L439.8 774.2L440.2 771.7L440.6 769.3L441.0 766.8L441.3 764.3L441.7 761.9L442.1 759.4L442.4 756.9L442.8 754.4L443.2 752.0L443.5 749.5L443.9 747.0L444.3 744.5L444.6 742.1L445.0 739.6L445.4 737.1L445.7 734.6L446.1 732.2L446.4 729.7L446.8 727.2L447.1 724.7L447.5 722.3L447.9 719.8L448.2 717.3L448.6 714.8L448.9 712.4L449.3 709.9L449.6 707.4L450.0 704.9L450.4 702.5L450.7 700.0L451.1 697.5L451.4 695.0L451.8 692.6L452.1 690.1L452.5 687.6L452.8 685.1L453.2 682.7L453.6 680.2L453.9 677.7L454.3 675.2L454.6 672.8L455.0 670.3L455.4 667.8L455.7 665.3L456.1 662.9L456.4 660.4L456.8 657.9L457.2 655.4L457.5 653.0L457.9 650.5L458.3 648.0L458.6 645.6L459.0 643.1L459.4 640.6L459.8 638.1L460.1 635.7L460.5 633.2L460.9 630.7L461.3 628.3L461.7 625.8L462.0 623.3L462.4 620.8L462.8 618.4L463.2 615.9L463.6 613.4L464.0 611.0L464.4 608.5L464.8 606.0L465.2 603.6L465.6 601.1L466.0 598.6L466.4 596.2L466.8 593.7L467.2 591.2L467.6 588.8L468.0 586.3L468.5 583.8L468.9 581.4L469.3 578.9L469.7 576.4L470.2 574.0L470.6 571.5L471.0 569.1L471.5 566.6L471.9 564.1L472.4 561.7L472.8 559.2L473.3 556.8L473.7 554.3L474.2 551.9L474.7 549.4L475.1 546.9L475.6 544.5L476.1 542.0L476.5 539.6L477.0 537.1L477.5 534.7L478.0 532.2L478.5 529.8L479.0 527.3L479.5 524.9L480.0 522.4L480.5 520.0L481.0 517.5L481.5 515.1L482.1 512.7L482.6 510.2L483.1 507.8L483.7 505.3L484.2 502.9L484.7 500.4L485.3 498.0L485.8 495.6L486.4 493.1L487.0 490.7L487.5 488.2L488.1 485.8L488.7 483.4L489.3 480.9L489.9 478.5L490.5 476.1L491.1 473.7L491.7 471.2L492.3 468.8L492.9 466.4L493.5 463.9L494.1 461.5L494.8 459.1L495.4 456.7L496.1 454.2L496.7 451.8L497.4 449.4L498.0 447.0L498.7 444.6L499.4 442.2L500.0 439.7L500.7 437.3L501.4 434.9L502.1 432.5L502.8 430.1L503.5 427.7L504.3 425.3L505.0 422.9L505.7 420.5L506.5 418.1L507.2 415.7L508.0 413.3L508.7 410.9L509.5 408.5L510.3 406.1L511.1 403.8L511.9 401.4L512.7 399.0L513.5 396.6L514.3 394.3L515.2 391.9L516.0 389.5L516.8 387.2L517.7 384.8L518.6 382.5L519.4 380.1L520.3 377.8L521.2 375.5L522.1 373.1L523.0 370.8L524.0 368.5L524.9 366.2L525.8 363.9L526.8 361.5L527.8 359.2L528.7 356.9L529.7 354.7L530.7 352.4L531.7 350.1L532.8 347.8L533.8 345.5L534.8 343.3L535.9 341.0L537.0 338.8L538.0 336.5L539.1 334.3L540.2 332.0L541.3 329.8L542.5 327.6L543.6 325.4L544.7 323.2L545.9 321.0L547.1 318.8L548.3 316.6L549.5 314.4L550.7 312.2L551.9 310.1L553.2 307.9L554.4 305.8L555.7 303.6L557.0 301.5L558.3 299.4L559.6 297.2L560.9 295.1L562.2 293.0L563.6 290.9L564.9 288.8L566.3 286.8L567.7 284.7L569.1 282.6L570.5 280.6L572.0 278.5L573.4 276.5L574.9 274.5L576.4 272.5L577.9 270.5L579.4 268.5L581.0 266.5L582.6 264.6L584.2 262.7L585.8 260.8L587.5 258.9L589.2 257.1L591.0 255.3L592.7 253.5L594.6 251.7L596.4 250.0L598.3 248.3L600.2 246.7L602.2 245.1L604.1 243.4L606.1 241.8L608.0 240.3L610.0 238.7L611.9 237.1L613.8 235.5L615.7 234.0L617.6 232.4L619.5 230.8L621.3 229.2L623.1 227.6L624.9 226.0L626.7 224.4L628.5 222.7L630.3 221.1L632.1 219.4L633.9 217.6L635.7 215.9L637.5 214.1L639.3 212.2L641.1 210.4L642.9 208.5L644.8 206.7L646.7 204.9L648.6 203.1L650.5 201.5L652.5 200.0L654.6 198.6L656.7 197.3L658.9 196.2L661.2 195.3L663.6 194.6L666.0 194.2L668.4 193.9L670.8 193.9L673.3 194.0L675.7 194.4L678.1 194.9L680.5 195.6L682.8 196.4L685.2 197.3L687.6 198.3L690.0 199.3L692.4 200.3L694.7 201.3L697.1 202.3L699.5 203.3L701.9 204.1L704.3 204.9L706.7 205.6L709.1 206.1L711.6 206.5L714.0 206.8L716.5 207.0L718.9 207.2L721.4 207.2L723.8 207.3L726.3 207.3L728.8 207.2L731.3 207.2L733.8 207.2L736.3 207.2L738.8 207.2L741.3 207.3L743.8 207.4L746.3 207.6L748.8 207.8L751.3 208.0L753.8 208.3L756.3 208.5L758.8 208.8L761.3 209.1L763.8 209.3L766.3 209.6L768.8 209.8L771.3 210.0L772.0 210.0L773.9 210.1L775.7 210.1L777.6 210.1L779.4 210.2L781.3 210.5L783.1 211.0L785.0 211.7L787.0 212.6L789.0 213.7L791.0 214.9L793.0 216.3L795.0 217.9L797.0 219.7L799.0 221.7L801.0 223.7L803.0 225.7L805.0 227.7L807.0 229.7L809.0 231.5L811.0 233.1L813.0 234.4L815.0 235.4L817.0 236.1L819.0 236.2L821.0 236.0L823.0 235.5L825.0 234.6L827.0 233.5L829.0 232.1L831.0 230.4L833.0 228.5L835.0 226.4L837.0 224.3L839.0 222.3L841.0 220.5L843.0 218.9L845.0 217.6L847.0 216.5L849.0 215.6L851.0 215.0L853.0 214.6L855.0 214.3L857.0 214.3L859.0 214.6L861.0 215.1L863.0 215.8L865.0 216.7L867.0 217.5L869.0 218.5L871.0 219.4L873.0 220.4L875.0 221.5L877.0 222.6L879.0 223.7L881.0 224.9L883.0 226.1L885.0 227.4L887.0 228.7L889.0 230.1L891.0 231.6L893.0 233.1L895.0 234.6L897.0 236.3L899.0 238.0L901.0 239.8L903.0 241.7L905.0 243.7L907.0 245.8L909.0 248.0L911.0 250.4L913.0 252.9L915.0 255.4L917.0 258.1L919.0 260.9L921.0 263.7L923.0 266.5L925.0 269.5L927.0 272.4L929.0 275.3L931.0 278.2L933.0 281.0L935.0 283.8L937.0 286.5L939.0 289.1L941.0 291.5L943.0 293.5L945.0 295.1L947.0 296.1L949.0 296.7L951.0 296.8L953.0 296.5L955.0 296.0L957.0 295.1L959.0 294.0L961.0 292.6L963.0 291.0L965.0 289.3L967.0 287.6L969.0 286.0L971.0 284.8L973.0 283.9L975.0 283.5L977.0 283.7L979.0 284.2L981.0 285.0L983.0 286.1L985.0 287.5L987.0 289.2L989.0 291.2L991.0 293.5L993.0 295.9L995.0 298.3L997.0 300.6L999.0 302.6L1001.0 304.5L1003.0 306.1L1005.0 307.6L1007.0 309.0L1009.0 310.2L1011.0 311.4L1013.0 312.4L1015.0 313.4L1017.0 314.3L1019.0 315.2L1021.0 316.0L1023.0 316.8L1025.0 317.6L1027.0 318.4L1029.0 319.2L1031.0 320.0L1033.0 320.7L1035.0 321.6L1037.0 322.4L1039.0 323.3L1041.0 324.2L1043.0 325.2L1045.0 326.3L1047.0 327.4L1049.0 328.7L1051.0 330.1L1053.0 331.6L1055.0 333.3L1057.0 335.0L1059.0 336.9L1061.0 338.9L1063.0 341.1L1065.0 343.4L1067.0 345.8L1069.0 348.3L1071.0 350.9L1073.0 353.7L1075.0 356.6L1077.0 359.5L1079.0 362.6L1081.0 365.8L1083.0 369.0L1085.0 372.3L1087.0 375.6L1089.0 379.0L1091.0 382.3L1093.0 385.5L1095.0 388.7L1097.0 391.8L1099.0 394.8L1101.0 397.7L1103.0 400.5L1105.0 403.1L1107.0 405.7L1109.0 408.1L1111.0 410.5L1113.0 412.7L1115.0 414.9L1117.0 417.0L1119.0 419.0L1121.0 421.0L1123.0 422.9L1125.0 424.8L1127.0 426.6L1129.0 428.4L1131.0 430.2L1133.0 431.9L1135.0 433.6L1137.0 435.2L1139.0 436.8L1141.0 438.4L1143.0 440.0L1145.0 441.5L1147.0 443.1L1149.0 444.6L1151.0 446.0L1153.0 447.5L1155.0 449.0L1157.0 450.4L1159.0 451.8L1161.0 453.2L1163.0 454.7L1165.0 456.1L1167.0 457.5L1169.0 458.9L1171.0 460.3L1173.0 461.8L1175.0 463.3L1177.0 464.8L1179.0 466.3L1181.0 467.8L1183.0 469.4L1185.0 471.0L1187.0 472.7L1189.0 474.4L1191.0 476.2L1193.0 478.1L1195.0 480.0L1197.0 482.0L1199.0 484.1L1201.0 486.4L1203.0 488.7L1205.0 491.1L1207.0 493.4L1209.0 495.4L1211.0 497.2L1213.0 498.6L1215.0 499.6L1217.0 500.4L1219.0 500.9L1221.0 501.2L1223.0 501.4L1225.0 501.6L1227.0 501.7L1229.0 501.7L1231.0 501.8L1233.0 502.0L1235.0 502.2L1237.0 502.6L1239.0 503.1L1241.0 503.8L1243.0 504.6L1245.0 505.6L1247.0 506.8L1249.0 508.1L1251.0 509.5L1253.0 511.0L1255.0 512.6L1257.0 514.2L1259.0 516.0L1261.0 517.9L1263.0 519.8L1265.0 521.8L1267.0 523.9L1269.0 526.0L1271.0 528.2L1273.0 530.4L1275.0 532.6L1277.0 534.9L1279.0 537.2L1281.0 539.5L1283.0 541.7L1285.0 544.0L1287.0 546.1L1289.0 548.3L1291.0 550.4L1293.0 552.4L1295.0 554.3L1297.0 556.2L1299.0 558.0L1301.0 559.7L1303.0 561.4L1305.0 563.0L1307.0 564.5L1309.0 566.1L1311.0 567.6L1313.0 569.0L1315.0 570.5L1317.0 571.9L1319.0 573.3L1321.0 574.7L1323.0 576.1L1325.0 577.5L1327.0 578.9L1329.0 580.3L1331.0 581.7L1333.0 583.2L1335.0 584.6L1337.0 586.0L1339.0 587.5L1341.0 588.9L1343.0 590.4L1345.0 591.9L1347.0 593.4L1349.0 594.8L1351.0 596.3L1353.0 597.8L1355.0 599.3L1357.0 600.8L1359.0 602.4L1361.0 603.9L1363.0 605.4L1365.0 606.9L1367.0 608.5L1369.0 610.0L1371.0 611.6L1373.0 613.1L1375.0 614.7L1377.0 616.2L1379.0 617.8L1381.0 619.4L1383.0 621.0L1385.0 622.5L1387.0 624.1L1389.0 625.7L1391.0 627.3L1393.0 628.9L1395.0 630.5L1397.0 632.1L1399.0 633.7L1401.0 635.3L1403.0 636.9L1405.0 638.5L1407.0 640.1L1409.0 641.8L1411.0 643.4L1413.0 645.0L1415.0 646.6L1417.0 648.2L1419.0 649.9L1421.0 651.5L1423.0 653.1L1425.0 654.8L1427.0 656.4L1429.0 658.0L1431.0 659.6L1433.0 661.3L1435.0 662.9L1437.0 664.5L1439.0 666.1L1441.0 667.8L1443.0 669.4L1445.0 671.0L1447.0 672.6L1449.0 674.3L1451.0 675.9L1453.0 677.5L1455.0 679.1L1457.0 680.7L1459.0 682.3L1461.0 684.0L1463.0 685.6L1465.0 687.2L1467.0 688.8L1469.0 690.4L1471.0 692.0L1473.0 693.5L1475.0 695.1L1477.0 696.7L1479.0 698.3L1481.0 699.9L1483.0 701.4L1485.0 703.0L1487.0 704.6L1489.0 706.1L1491.0 707.7L1493.0 709.2L1495.0 710.8L1497.0 712.3L1499.0 713.8L1501.0 715.3L1503.0 716.9L1505.0 718.4L1507.0 719.9L1509.0 721.4L1511.0 722.9L1513.0 724.4L1515.0 725.8L1517.0 727.3L1518.9 728.7" fill="none" stroke="#008000" stroke-width="7.4" stroke-linejoin="round" stroke-linecap="butt"/>
<path d="M223.7 1057.0L226.0 1056.1L228.4 1055.3L230.7 1054.4L233.1 1053.5L235.4 1052.7L237.8 1051.9L240.2 1051.0L242.5 1050.2L244.9 1049.4L247.3 1048.6L249.6 1047.8L252.0 1047.1L254.4 1046.3L256.8 1045.6L259.2 1044.8L261.6 1044.1L264.0 1043.4L266.4 1042.7L268.8 1042.0L271.2 1041.3L273.6 1040.6L276.0 1040.0L278.4 1039.4L280.9 1038.8L283.3 1038.1L285.7 1037.6L288.1 1037.0L290.6 1036.4L293.0 1035.9L295.4 1035.4L297.9 1034.9L300.3 1034.4L302.8 1033.9L305.2 1033.5L307.7 1033.0L310.2 1032.6L312.6 1032.2L315.1 1031.8L317.6 1031.5L320.0 1031.2L322.5 1030.8L325.0 1030.5L327.5 1030.3L330.0 1030.0L332.5 1029.8L334.9 1029.6L337.4 1029.4L339.9 1029.2L342.4 1029.1L344.9 1029.0L347.5 1028.9L350.0 1028.7L352.5 1028.6L355.0 1028.5L357.5 1028.3L360.0 1028.1L362.4 1027.9L364.9 1027.6L367.4 1027.2L369.8 1026.7L372.3 1026.1L374.7 1025.4L377.0 1024.5L379.3 1023.4L381.5 1022.2L383.6 1020.8L385.5 1019.3L387.3 1017.5L389.0 1015.7L390.6 1013.7L392.2 1011.8L393.7 1009.8L395.1 1007.7L396.5 1005.6L397.8 1003.5L399.1 1001.4L400.3 999.2L401.5 997.0L402.6 994.8L403.7 992.6L404.8 990.3L405.8 988.1L406.8 985.8L407.8 983.4L408.7 981.1L409.6 978.8L410.5 976.4L411.3 974.1L412.2 971.7L413.0 969.3L413.8 966.9L414.6 964.6L415.3 962.2L416.1 959.8L416.8 957.4L417.6 955.0L418.3 952.6L419.0 950.2L419.7 947.8L420.4 945.4L421.1 943.0L421.7 940.5L422.4 938.1L423.0 935.7L423.7 933.3L424.3 930.9L424.9 928.5L425.5 926.0L426.1 923.6L426.7 921.2L427.3 918.7L427.8 916.3L428.4 913.9L429.0 911.4L429.5 909.0L430.1 906.6L430.6 904.1L431.1 901.7L431.6 899.2L432.2 896.8L432.7 894.4L433.2 891.9L433.7 889.5L434.1 887.0L434.6 884.6L435.1 882.1L435.6 879.7L436.1 877.2L436.5 874.7L437.0 872.3L437.5 869.8L437.9 867.4L438.4 864.9L438.8 862.5L439.3 860.0L439.7 857.6L440.2 855.1L440.6 852.6L441.0 850.2L441.5 847.7L441.9 845.3L442.4 842.8L442.8 840.3L443.2 837.9L443.7 835.4L444.1 833.0L444.5 830.5L445.0 828.0L445.4 825.6L445.8 823.1L446.2 820.7L446.7 818.2L447.1 815.7L447.5 813.3L447.9 810.8L448.4 808.4L448.8 805.9L449.2 803.4L449.6 801.0L450.0 798.5L450.5 796.1L450.9 793.6L451.3 791.1L451.7 788.7L452.1 786.2L452.6 783.7L453.0 781.3L453.4 778.8L453.8 776.4L454.2 773.9L454.7 771.4L455.1 769.0L455.5 766.5L455.9 764.1L456.3 761.6L456.7 759.1L457.2 756.7L457.6 754.2L458.0 751.7L458.4 749.3L458.8 746.8L459.2 744.4L459.7 741.9L460.1 739.4L460.5 737.0L460.9 734.5L461.4 732.1L461.8 729.6L462.2 727.1L462.6 724.7L463.0 722.2L463.5 719.8L463.9 717.3L464.3 714.8L464.7 712.4L465.2 709.9L465.6 707.5L466.0 705.0L466.5 702.5L466.9 700.1L467.3 697.6L467.8 695.2L468.2 692.7L468.6 690.2L469.1 687.8L469.5 685.3L470.0 682.9L470.4 680.4L470.8 677.9L471.3 675.5L471.7 673.0L472.2 670.6L472.6 668.1L473.1 665.7L473.5 663.2L474.0 660.7L474.5 658.3L474.9 655.8L475.4 653.4L475.8 650.9L476.3 648.5L476.8 646.0L477.2 643.6L477.7 641.1L478.2 638.6L478.7 636.2L479.1 633.7L479.6 631.3L480.1 628.8L480.6 626.4L481.1 623.9L481.6 621.5L482.1 619.0L482.5 616.6L483.0 614.1L483.5 611.7L484.0 609.2L484.5 606.8L485.1 604.3L485.6 601.9L486.1 599.4L486.6 597.0L487.1 594.5L487.6 592.1L488.2 589.6L488.7 587.2L489.2 584.7L489.7 582.3L490.3 579.9L490.8 577.4L491.4 575.0L491.9 572.5L492.5 570.1L493.0 567.6L493.6 565.2L494.1 562.7L494.7 560.3L495.3 557.9L495.8 555.4L496.4 553.0L497.0 550.5L497.6 548.1L498.1 545.7L498.7 543.2L499.3 540.8L499.9 538.3L500.5 535.9L501.1 533.5L501.7 531.0L502.3 528.6L502.9 526.2L503.6 523.7L504.2 521.3L504.8 518.9L505.5 516.5L506.1 514.0L506.7 511.6L507.4 509.2L508.0 506.8L508.7 504.3L509.4 501.9L510.0 499.5L510.7 497.1L511.4 494.7L512.1 492.2L512.7 489.8L513.4 487.4L514.1 485.0L514.8 482.6L515.6 480.2L516.3 477.8L517.0 475.4L517.7 473.0L518.5 470.6L519.2 468.2L519.9 465.8L520.7 463.4L521.4 461.0L522.2 458.7L523.0 456.3L523.8 453.9L524.5 451.5L525.3 449.1L526.1 446.8L526.9 444.4L527.7 442.0L528.6 439.7L529.4 437.3L530.2 435.0L531.1 432.6L531.9 430.2L532.8 427.9L533.6 425.6L534.5 423.2L535.4 420.9L536.2 418.5L537.1 416.2L538.0 413.9L538.9 411.6L539.8 409.2L540.8 406.9L541.7 404.6L542.6 402.3L543.6 400.0L544.5 397.7L545.5 395.4L546.4 393.1L547.4 390.8L548.4 388.5L549.4 386.2L550.4 383.9L551.4 381.7L552.4 379.4L553.5 377.1L554.5 374.9L555.5 372.6L556.6 370.3L557.7 368.1L558.7 365.9L559.8 363.6L560.9 361.4L562.0 359.1L563.1 356.9L564.2 354.7L565.4 352.5L566.5 350.3L567.7 348.1L568.8 345.9L570.0 343.7L571.2 341.5L572.4 339.3L573.6 337.1L574.8 334.9L576.0 332.8L577.2 330.6L578.4 328.4L579.7 326.3L581.0 324.1L582.2 322.0L583.5 319.8L584.8 317.7L586.1 315.6L587.4 313.5L588.7 311.3L590.1 309.2L591.4 307.1L592.8 305.0L594.2 302.9L595.5 300.9L596.9 298.8L598.3 296.7L599.7 294.6L601.2 292.6L602.6 290.5L604.1 288.5L605.5 286.4L607.0 284.4L608.5 282.4L610.0 280.4L611.5 278.3L613.0 276.3L614.5 274.3L616.1 272.3L617.6 270.4L619.2 268.4L620.8 266.4L622.3 264.5L623.9 262.5L625.6 260.6L627.2 258.6L628.8 256.7L630.4 254.8L632.1 252.9L633.7 251.0L635.4 249.1L637.1 247.3L638.8 245.4L640.5 243.6L642.2 241.7L643.9 239.9L645.6 238.1L647.4 236.3L649.1 234.5L650.9 232.8L652.8 231.1L654.6 229.5L656.5 227.9L658.5 226.5L660.5 225.1L662.5 223.8L664.7 222.7L666.9 221.6L669.2 220.7L671.5 219.9L674.0 219.3L676.5 218.7L679.0 218.3L681.5 217.9L684.1 217.6L686.6 217.3L689.1 217.1L691.7 216.9L694.2 216.8L696.7 216.6L699.2 216.5L701.8 216.5L704.3 216.4L706.8 216.3L709.3 216.2L711.7 216.1L714.2 216.0L716.7 215.9L719.1 215.8L721.6 215.6L724.0 215.3L726.4 215.1L728.9 214.8L731.3 214.5L733.7 214.2L736.1 213.9L738.6 213.5L741.0 213.2L743.5 212.8L746.0 212.5L748.5 212.1L751.0 211.8L753.5 211.5L756.1 211.1L758.6 210.8L761.2 210.5L763.8 210.3L766.4 210.1L769.0 210.0L771.6 210.0L774.1 210.0L776.6 210.2L779.1 210.5L781.6 210.9L783.9 211.4L786.2 212.1L788.5 212.9L790.6 213.9L792.7 215.2L794.7 216.5L796.7 218.0L798.6 219.7L800.5 221.3L802.4 223.0L804.3 224.8L806.2 226.4L808.3 228.0L810.3 229.5L812.5 230.8L814.7 231.8L817.0 232.5L819.4 232.6L821.8 232.2L824.1 231.4L826.4 230.3L828.4 228.9L830.4 227.3L832.2 225.6L834.0 223.8L835.8 221.9L837.5 220.1L839.4 218.3L841.3 216.6L843.3 215.0L845.4 213.6L847.6 212.4L850.0 211.5L852.4 210.9L854.8 210.6L857.2 210.6L859.6 210.9L862.0 211.6L864.2 212.5L866.5 213.5L868.8 214.5L871.1 215.5L873.3 216.6L875.6 217.7L877.8 218.9L880.0 220.1L882.2 221.3L884.4 222.6L886.6 223.9L888.7 225.3L890.8 226.7L892.9 228.2L894.9 229.7L896.9 231.2L898.8 232.8L900.7 234.5L902.6 236.1L904.4 237.9L906.1 239.6L907.9 241.4L909.5 243.2L911.1 245.1L912.7 247.0L914.3 248.9L915.8 250.9L917.3 252.8L918.8 254.8L920.3 256.8L921.8 258.8L923.2 260.9L924.7 262.9L926.1 265.0L927.6 267.0L929.0 269.1L930.5 271.1L931.9 273.1L933.4 275.2L934.9 277.2L936.5 279.2L938.0 281.2L939.6 283.2L941.3 285.1L943.0 286.8L944.9 288.2L946.9 289.2L949.1 289.8L951.6 289.8L954.1 289.2L956.6 288.2L958.9 286.9L961.1 285.3L963.2 283.5L965.2 281.7L967.2 280.0L969.2 278.4L971.2 277.2L973.3 276.3L975.5 275.9L977.7 276.1L980.1 276.9L982.4 278.0L984.6 279.5L986.6 281.1L988.4 282.8L990.2 284.7L991.8 286.6L993.5 288.6L995.1 290.5L996.7 292.4L998.5 294.2L1000.3 295.9L1002.2 297.5L1004.1 299.0L1006.2 300.4L1008.3 301.7L1010.5 302.9L1012.7 304.1L1014.9 305.1L1017.2 306.1L1019.6 307.1L1021.9 308.0L1024.3 308.9L1026.7 309.8L1029.0 310.6L1031.4 311.5L1033.8 312.4L1036.1 313.3L1038.5 314.3L1040.8 315.3L1043.0 316.4L1045.2 317.5L1047.4 318.7L1049.5 320.0L1051.6 321.4L1053.5 322.9L1055.5 324.5L1057.4 326.2L1059.2 327.9L1061.0 329.6L1062.7 331.4L1064.4 333.3L1066.0 335.2L1067.6 337.1L1069.2 339.1L1070.7 341.1L1072.2 343.1L1073.7 345.1L1075.1 347.2L1076.5 349.2L1077.9 351.3L1079.2 353.4L1080.6 355.5L1081.9 357.7L1083.2 359.8L1084.5 362.0L1085.8 364.1L1087.1 366.3L1088.4 368.4L1089.7 370.6L1091.0 372.7L1092.3 374.8L1093.6 377.0L1094.9 379.1L1096.3 381.2L1097.6 383.3L1099.0 385.4L1100.4 387.5L1101.8 389.5L1103.3 391.5L1104.8 393.5L1106.3 395.5L1107.8 397.5L1109.4 399.4L1111.0 401.3L1112.7 403.2L1114.3 405.0L1116.0 406.8L1117.8 408.7L1119.5 410.4L1121.3 412.2L1123.1 414.0L1124.9 415.7L1126.7 417.4L1128.6 419.1L1130.4 420.8L1132.3 422.4L1134.2 424.0L1136.2 425.7L1138.1 427.3L1140.0 428.8L1142.0 430.4L1144.0 432.0L1146.0 433.5L1147.9 435.0L1149.9 436.6L1151.9 438.1L1153.9 439.5L1156.0 441.0L1158.0 442.5L1160.0 443.9L1162.0 445.4L1164.0 446.8L1166.0 448.3L1168.0 449.7L1170.0 451.2L1172.0 452.6L1174.0 454.1L1176.0 455.6L1178.0 457.1L1179.9 458.6L1181.9 460.2L1183.8 461.7L1185.7 463.3L1187.6 464.9L1189.4 466.6L1191.3 468.3L1193.1 470.0L1194.9 471.7L1196.7 473.5L1198.4 475.4L1200.1 477.3L1201.8 479.2L1203.5 481.2L1205.1 483.2L1206.8 485.1L1208.5 487.0L1210.3 488.7L1212.2 490.2L1214.3 491.4L1216.5 492.4L1218.8 493.0L1221.4 493.4L1224.0 493.6L1226.6 493.8L1229.3 493.9L1232.0 494.0L1234.6 494.3L1237.2 494.7L1239.6 495.4L1241.9 496.3L1244.1 497.3L1246.3 498.5L1248.4 499.8L1250.4 501.2L1252.3 502.7L1254.3 504.2L1256.2 505.8L1258.0 507.4L1259.9 509.1L1261.6 510.8L1263.4 512.5L1265.2 514.3L1266.9 516.1L1268.6 517.9L1270.3 519.8L1271.9 521.6L1273.6 523.5L1275.3 525.4L1276.9 527.3L1278.6 529.2L1280.2 531.1L1281.9 533.0L1283.5 534.9L1285.2 536.8L1286.9 538.6L1288.6 540.5L1290.3 542.3L1292.1 544.1L1293.8 545.9L1295.6 547.6L1297.5 549.3L1299.3 551.0L1301.2 552.6L1303.1 554.2L1305.0 555.8L1307.0 557.4L1309.0 558.9L1311.0 560.4L1313.0 561.9L1315.0 563.3L1317.0 564.8L1319.1 566.3L1321.1 567.7L1323.1 569.2L1325.2 570.6L1327.2 572.1L1329.3 573.5L1331.3 575.0L1333.3 576.4L1335.4 577.9L1337.4 579.4L1339.4 580.9L1341.4 582.3L1343.4 583.8L1345.4 585.3L1347.4 586.8L1349.4 588.3L1351.4 589.8L1353.4 591.3L1355.4 592.9L1357.4 594.4L1359.4 595.9L1361.4 597.4L1363.3 598.9L1365.3 600.5L1367.3 602.0L1369.3 603.6L1371.2 605.1L1373.2 606.6L1375.1 608.2L1377.1 609.7L1379.1 611.3L1381.0 612.9L1383.0 614.4L1384.9 616.0L1386.9 617.5L1388.8 619.1L1390.8 620.7L1392.7 622.2L1394.7 623.8L1396.6 625.4L1398.6 627.0L1400.5 628.5L1402.4 630.1L1404.4 631.7L1406.3 633.3L1408.2 634.9L1410.2 636.4L1412.1 638.0L1414.0 639.6L1416.0 641.2L1417.9 642.8L1419.8 644.4L1421.8 646.0L1423.7 647.6L1425.6 649.2L1427.6 650.7L1429.5 652.3L1431.4 653.9L1433.3 655.5L1435.3 657.1L1437.2 658.7L1439.1 660.3L1441.1 661.9L1443.0 663.5L1444.9 665.0L1446.9 666.6L1448.8 668.2L1450.7 669.8L1452.7 671.4L1454.6 673.0L1456.5 674.6L1458.5 676.1L1460.4 677.7L1462.3 679.3L1464.3 680.9L1466.2 682.4L1468.2 684.0L1470.1 685.6L1472.1 687.2L1474.0 688.7L1476.0 690.3L1477.9 691.9L1479.9 693.4L1481.8 695.0L1483.8 696.5L1485.7 698.1L1487.7 699.6L1489.7 701.2L1491.6 702.7L1493.6 704.3L1495.6 705.8L1497.5 707.3L1499.5 708.9L1501.5 710.4L1503.5 711.9L1505.5 713.4L1507.5 714.9L1509.4 716.4L1511.4 718.0L1513.4 719.5L1515.4 721.0L1517.4 722.4L1519.0 723.6" fill="none" stroke="#7F00FF" stroke-width="7.4" stroke-linejoin="round" stroke-linecap="butt"/>
</g>
<g>
<line x1="681.5" y1="607.7" x2="789.5" y2="607.7" stroke="#FF0000" stroke-width="7.7" stroke-linecap="round"/>
<line x1="681.5" y1="674.5" x2="789.5" y2="674.5" stroke="#000000" stroke-width="7.7" stroke-linecap="round"/>
<line x1="681.5" y1="741.2" x2="789.5" y2="741.2" stroke="#0000FF" stroke-width="7.7" stroke-linecap="round"/>
<line x1="681.5" y1="808.0" x2="789.5" y2="808.0" stroke="#008000" stroke-width="7.7" stroke-linecap="round"/>
<line x1="681.5" y1="874.7" x2="789.5" y2="874.7" stroke="#7F00FF" stroke-width="7.7" stroke-linecap="round"/>
</g>
<g>
<text transform="translate(223.10,1168.20) scale(1,1.05)" font-size="59.5" text-anchor="middle">0.3</text>
<text transform="translate(482.10,1168.20) scale(1,1.05)" font-size="59.5" text-anchor="middle">0.4</text>
<text transform="translate(741.10,1168.20) scale(1,1.05)" font-size="59.5" text-anchor="middle">0.5</text>
<text transform="translate(1000.10,1168.20) scale(1,1.05)" font-size="59.5" text-anchor="middle">0.6</text>
<text transform="translate(1259.10,1168.20) scale(1,1.05)" font-size="59.5" text-anchor="middle">0.7</text>
<text transform="translate(1518.10,1168.20) scale(1,1.05)" font-size="59.5" text-anchor="middle">0.8</text>
<text transform="translate(201.00,1117.90) scale(1,1.05)" font-size="59.5" text-anchor="end">0</text>
<text transform="translate(201.00,909.26) scale(1,1.05)" font-size="59.5" text-anchor="end">1</text>
<text transform="translate(201.00,700.62) scale(1,1.05)" font-size="59.5" text-anchor="end">2</text>
<text transform="translate(201.00,491.98) scale(1,1.05)" font-size="59.5" text-anchor="end">3</text>
<text transform="translate(201.00,283.34) scale(1,1.05)" font-size="59.5" text-anchor="end">4</text>
<text transform="translate(201.00,74.70) scale(1,1.05)" font-size="59.5" text-anchor="end">5</text>
<text transform="translate(802.60,624.50) scale(1,1.03)" font-size="48.5" text-anchor="start" font-style="italic">d</text>
<text transform="translate(825.50,624.50) scale(1,1.03)" font-size="48.5" text-anchor="start" textLength="31" lengthAdjust="spacingAndGlyphs">=</text>
<text transform="translate(855.60,624.50) scale(1,1.03)" font-size="48.5" text-anchor="start">0.05</text>
<text transform="translate(953.20,624.80) scale(1,1.03)" font-size="41.5" text-anchor="start" style="font-family:'Noto Serif CJK SC','Liberation Serif',serif;font-weight:bold">μ</text>
<text transform="translate(982.20,624.50) scale(1,1.03)" font-size="47.5" text-anchor="start">m</text>
<text transform="translate(802.60,691.30) scale(1,1.03)" font-size="48.5" text-anchor="start" font-style="italic">d</text>
<text transform="translate(825.50,691.30) scale(1,1.03)" font-size="48.5" text-anchor="start" textLength="31" lengthAdjust="spacingAndGlyphs">=</text>
<text transform="translate(855.60,691.30) scale(1,1.03)" font-size="48.5" text-anchor="start">0.08</text>
<text transform="translate(953.20,691.60) scale(1,1.03)" font-size="41.5" text-anchor="start" style="font-family:'Noto Serif CJK SC','Liberation Serif',serif;font-weight:bold">μ</text>
<text transform="translate(982.20,691.30) scale(1,1.03)" font-size="47.5" text-anchor="start">m</text>
<text transform="translate(802.60,758.00) scale(1,1.03)" font-size="48.5" text-anchor="start" font-style="italic">d</text>
<text transform="translate(825.50,758.00) scale(1,1.03)" font-size="48.5" text-anchor="start" textLength="31" lengthAdjust="spacingAndGlyphs">=</text>
<text transform="translate(855.60,758.00) scale(1,1.03)" font-size="48.5" text-anchor="start">0.10</text>
<text transform="translate(953.20,758.30) scale(1,1.03)" font-size="41.5" text-anchor="start" style="font-family:'Noto Serif CJK SC','Liberation Serif',serif;font-weight:bold">μ</text>
<text transform="translate(982.20,758.00) scale(1,1.03)" font-size="47.5" text-anchor="start">m</text>
<text transform="translate(802.60,824.80) scale(1,1.03)" font-size="48.5" text-anchor="start" font-style="italic">d</text>
<text transform="translate(825.50,824.80) scale(1,1.03)" font-size="48.5" text-anchor="start" textLength="31" lengthAdjust="spacingAndGlyphs">=</text>
<text transform="translate(855.60,824.80) scale(1,1.03)" font-size="48.5" text-anchor="start">0.15</text>
<text transform="translate(953.20,825.10) scale(1,1.03)" font-size="41.5" text-anchor="start" style="font-family:'Noto Serif CJK SC','Liberation Serif',serif;font-weight:bold">μ</text>
<text transform="translate(982.20,824.80) scale(1,1.03)" font-size="47.5" text-anchor="start">m</text>
<text transform="translate(802.60,891.50) scale(1,1.03)" font-size="48.5" text-anchor="start" font-style="italic">d</text>
<text transform="translate(825.50,891.50) scale(1,1.03)" font-size="48.5" text-anchor="start" textLength="31" lengthAdjust="spacingAndGlyphs">=</text>
<text transform="translate(855.60,891.50) scale(1,1.03)" font-size="48.5" text-anchor="start">0.20</text>
<text transform="translate(953.20,891.80) scale(1,1.03)" font-size="41.5" text-anchor="start" style="font-family:'Noto Serif CJK SC','Liberation Serif',serif;font-weight:bold">μ</text>
<text transform="translate(982.20,891.50) scale(1,1.03)" font-size="47.5" text-anchor="start">m</text>
<text transform="translate(548.60,1300.80) scale(1,1.02)" font-size="89.0" text-anchor="start">Wavelength</text>
<text transform="translate(1023.20,1301.10) scale(1,1.02)" font-size="68" text-anchor="start">(</text>
<text transform="translate(1045.00,1301.40) scale(1,1.02)" font-size="76" text-anchor="start" style="font-family:'Noto Serif CJK SC','Liberation Serif',serif;font-weight:bold">μ</text>
<text transform="translate(1099.60,1300.80) scale(1,1.02)" font-size="86.5" text-anchor="start">m</text>
<text transform="translate(1170.60,1301.10) scale(1,1.02)" font-size="68" text-anchor="start">)</text>
<text transform="translate(105.00,727.50) rotate(-90) scale(1,1.02)" font-size="89.0" text-anchor="start" font-style="italic">SR</text>
<text transform="translate(105.00,593.80) rotate(-90) scale(1,1.02)" font-size="89.0" text-anchor="start">(A/W)</text>
</g>
</svg>
</body>
</html>
